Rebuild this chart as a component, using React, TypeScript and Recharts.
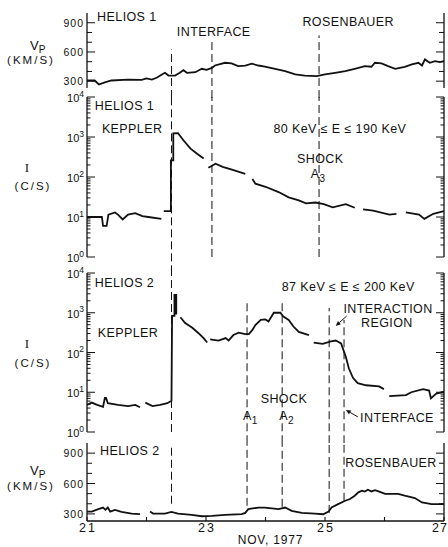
import React from "react";
import { LineChart, Line, XAxis, YAxis, ReferenceLine, ReferenceDot } from "recharts";

const FONT = '"Liberation Sans", Arial, Helvetica, sans-serif';
const SERIF = '"Liberation Serif", "DejaVu Serif", serif';
const INK = "#111";
const DASH = "8 4";

// ---------- axes ----------
const dayTicks = [21, 22, 23, 24, 25, 26, 27];
const dayTickLabels = [21, 23, 25, 27];
const speedTicks = [300, 400, 500, 600, 700, 800, 900];
const speedTickLabels = [300, 600, 900];
const countTicks = [
  1, 2, 3, 4, 5, 6, 7, 8, 9,
  10, 20, 30, 40, 50, 60, 70, 80, 90,
  100, 200, 300, 400, 500, 600, 700, 800, 900,
  1000, 2000, 3000, 4000, 5000, 6000, 7000, 8000, 9000,
  10000,
];
const countTickLabels = [1, 10, 100, 1000, 10000];

// ---------- Helios 1 solar wind speed (km/s) ----------
const h1SpeedDays = [21.0, 21.13, 21.2, 21.3, 21.41, 21.69, 21.92, 22.0, 22.09, 22.17, 22.26, 22.31, 22.37, 22.48, 22.56, 22.62, 22.68, 22.82, 22.93, 23.01, 23.1, 23.15, 23.32, 23.43, 23.54, 23.66, 23.77, 23.88, 23.99, 24.16, 24.33, 24.5, 24.66, 24.86, 25.0, 25.17, 25.34, 25.5, 25.67, 25.78, 25.84, 25.95, 26.06, 26.18, 26.34, 26.46, 26.57, 26.63, 26.68, 26.76, 26.85, 26.93, 27.0];
const h1Speed = [307, 307, 266, 287, 307, 317, 314, 328, 317, 335, 369, 386, 358, 358, 386, 413, 386, 392, 427, 416, 437, 461, 489, 482, 454, 460, 479, 461, 450, 427, 403, 369, 358, 351, 369, 386, 403, 427, 454, 448, 489, 482, 454, 427, 448, 472, 489, 461, 523, 489, 506, 496, 506];

// ---------- Helios 1 intensity 80-190 keV (c/s) ----------
const h1CountDays = [21.0, 21.25, 21.27, 21.33, 21.36, 21.47, 21.52, 21.6, 21.69, 21.81, 21.93, 22.03, 22.25, 22.27, 22.29, 22.41, 22.41, 22.45, 22.45, 22.53, 22.62, 22.74, 22.85, 22.96, 23.0, 23.04, 23.16, 23.28, 23.45, 23.66, 23.7, 23.78, 23.83, 24.0, 24.22, 24.39, 24.56, 24.68, 24.84, 24.98, 25.13, 25.35, 25.5, 25.52, 25.64, 25.81, 26.08, 26.2, 26.22, 26.36, 26.58, 26.67, 26.82, 27.0];
const h1Count = [10, 10, 6, 6, 11.5, 13, 11.5, 8.7, 11.5, 12.5, 10.5, 10, 9, null, 14, 14, 260, 260, 1230, 1250, 830, 510, 380, 290, null, 170, 215, 180, 150, 120, null, 89, 68, 57, 42, 31, 26, 22, 23, 21, 17.5, 21, 17, null, 15.5, 14.5, 11.5, 12, null, 13, 11.5, 9, 12, 14];

// ---------- Helios 2 intensity 87-200 keV (c/s) ----------
const h2CountDays = [21.0, 21.08, 21.17, 21.27, 21.3, 21.32, 21.35, 21.52, 21.69, 21.81, 21.89, 21.92, 21.98, 22.1, 22.23, 22.35, 22.42, 22.43, 22.47, 22.47, 22.5, 22.5, 22.53, 22.57, 22.65, 22.77, 22.87, 22.96, 23.02, 23.04, 23.07, 23.21, 23.33, 23.38, 23.46, 23.55, 23.66, 23.72, 23.78, 23.83, 23.92, 24.0, 24.05, 24.14, 24.25, 24.3, 24.39, 24.47, 24.56, 24.73, 24.77, 24.81, 24.96, 25.1, 25.18, 25.27, 25.35, 25.4, 25.47, 25.55, 25.69, 25.91, 25.99, 26.03, 26.08, 26.36, 26.45, 26.65, 26.75, 26.78, 26.87, 27.0];
const h2Count = [4.8, 5.5, 4.8, 4.3, 7.2, 7.2, 5.3, 4.8, 4.5, 4.8, 4.2, null, 5.5, 4.5, 4.8, 5.3, 6.1, 830, 830, 2800, 2800, 900, null, 770, 550, 420, 310, 230, 178, null, 215, 200, 230, 200, 275, 315, 290, 290, 370, 490, 660, 680, 600, 1000, 1000, 800, 660, 450, 330, 275, null, 178, 165, 190, 200, 170, 78, 40, 23, 17, 15, 14, 12, null, 8, 8.5, 10, 12, 11, 7, 9.3, 10.3];

// ---------- Helios 2 solar wind speed (km/s) ----------
const h2SpeedDays = [21.0, 21.08, 21.19, 21.27, 21.31, 21.35, 21.39, 21.47, 21.58, 21.75, 21.89, 21.97, 22.06, 22.11, 22.31, 22.42, 22.53, 22.76, 22.93, 23.1, 23.32, 23.6, 23.66, 23.71, 23.88, 23.99, 24.22, 24.33, 24.44, 24.61, 24.83, 24.97, 25.06, 25.11, 25.22, 25.34, 25.42, 25.5, 25.56, 25.62, 25.67, 25.72, 25.78, 25.84, 25.9, 26.01, 26.23, 26.34, 26.51, 26.63, 26.79, 27.0];
const h2Speed = [323, 323, 347, 363, 340, 363, 323, 340, 320, 303, 297, null, 323, 303, 303, 320, 303, 290, 277, 280, 290, 297, 310, 347, 363, 363, 347, 363, 330, 310, 303, 297, 323, 363, 397, 430, 447, 480, 513, 530, 520, 538, 522, 535, 523, 497, 497, 480, 457, 413, 397, 397];

// event times (days of Nov 1977)
const helios1Events = [22.42, 23.1, 24.9];
const helios2Events = [22.42, 23.69, 24.28, 25.07, 25.32];

type Pt = { day: number; v: number | null };
const zip = (days: number[], vals: (number | null)[]): Pt[] =>
  days.map((d, i) => ({ day: d, v: vals[i] }));

const h1SpeedData = zip(h1SpeedDays, h1Speed);
const h1CountData = zip(h1CountDays, h1Count);
const h2CountData = zip(h2CountDays, h2Count);
const h2SpeedData = zip(h2SpeedDays, h2Speed);

// ---------- tick renderers ----------
const yTick = (labels: number[], log: boolean, side: "left" | "right") => (p: any) => {
  const { x, y, payload } = p;
  const val = payload.value;
  const isLab = labels.includes(val);
  const len = isLab ? 8 : log ? 3.5 : 5;
  const dir = side === "left" ? 1 : -1;
  return (
    <g>
      <line x1={x} x2={x + dir * len} y1={y} y2={y} stroke={INK} strokeWidth={1} />
      {side === "left" && isLab &&
        (log ? (
          <text x={x - 3} y={y + 5} textAnchor="end" fontSize={11} fontFamily={FONT} fill={INK}>
            10
            <tspan dy={-5.5} fontSize={8.5}>
              {Math.round(Math.log10(val))}
            </tspan>
          </text>
        ) : (
          <text x={x - 3} y={y + 4} textAnchor="end" fontSize={10.5} letterSpacing={1} fontFamily={FONT} fill={INK}>
            {val}
          </text>
        ))}
    </g>
  );
};

const xTick = (withLabels: boolean) => (p: any) => {
  const { x, y, payload } = p;
  const last = payload.value === dayTicks[dayTicks.length - 1];
  return (
    <g>
      <line x1={x} x2={x} y1={y} y2={y - 4} stroke={INK} strokeWidth={1.1} />
      {withLabels && dayTickLabels.includes(payload.value) && (
        <text x={last ? x - 4 : x + 1} y={y + 11} textAnchor="middle" fontSize={12.5} letterSpacing={last ? 1 : 2} fontFamily={FONT} fill={INK}>
          {payload.value}
        </text>
      )}
    </g>
  );
};

const speedTitle = (d1: number, d2: number) => (p: any) => {
  const vb = p.viewBox || { x: 0, y: 0, width: 87, height: 0 };
  const cy = vb.y + vb.height / 2;
  return (
    <g fontFamily={FONT} fill={INK}>
      <text x={vb.x + 30} y={cy + d1} fontSize={13}>
        V<tspan dy={3} fontSize={10}>P</tspan>
      </text>
      <text x={vb.x + 31} y={cy + d2} fontSize={11.5} letterSpacing={2} textAnchor="middle">
        (KM/S)
      </text>
    </g>
  );
};

const countTitle = (d1: number, d2: number) => (p: any) => {
  const vb = p.viewBox || { x: 0, y: 0, width: 87, height: 0 };
  const cy = vb.y + vb.height / 2;
  return (
    <g fill={INK}>
      <text x={vb.x + 27} y={cy + d1} fontSize={13} fontFamily={SERIF} textAnchor="middle">
        I
      </text>
      <text x={vb.x + 33} y={cy + d2} fontSize={11.5} letterSpacing={2} fontFamily={FONT} textAnchor="middle">
        (C/S)
      </text>
    </g>
  );
};

const dateTitle = (p: any) => {
  const vb = p.viewBox || { x: 87, y: 0, width: 357, height: 26 };
  return (
    <text x={vb.x + vb.width / 2 + 5} y={vb.y + 23} textAnchor="middle" fontSize={12} letterSpacing={0.8} fontFamily={FONT} fill={INK}>
      NOV, 1977
    </text>
  );
};

// ---------- annotations ----------
const note = (key: string, x: number, y: number, text: React.ReactNode, anchor: "start" | "middle" | "end" = "start", size = 12.5) => (
  <ReferenceDot
    key={key}
    x={x}
    y={y}
    r={1}
    ifOverflow="visible"
    shape={(p: any) => (
      <text x={p.cx} y={p.cy} textAnchor={anchor} fontSize={size} letterSpacing={0.4} fontFamily={FONT} fill={INK}>
        {text}
      </text>
    )}
  />
);

const sub = (main: string, s: string) => (
  <>
    {main}
    <tspan dy={4} fontSize={10}>
      {s}
    </tspan>
  </>
);

const arrow = (key: string, x: number, y: number, dx: number, dy: number) => (
  <ReferenceDot
    key={key}
    x={x}
    y={y}
    r={1}
    ifOverflow="visible"
    shape={(p: any) => {
      const { cx, cy } = p;
      const L = Math.hypot(dx, dy);
      const ux = dx / L;
      const uy = dy / L;
      const bx = cx + ux * 5;
      const by = cy + uy * 5;
      const pts = `${cx},${cy} ${bx - uy * 2.2},${by + ux * 2.2} ${bx + uy * 2.2},${by - ux * 2.2}`;
      return (
        <g>
          <line x1={cx + dx} y1={cy + dy} x2={bx} y2={by} stroke={INK} strokeWidth={1} />
          <polygon points={pts} fill={INK} />
        </g>
      );
    }}
  />
);

const vline = (key: string, x: number, y1: number, y2: number) => (
  <ReferenceLine
    key={key}
    segment={[
      { x, y: y1 },
      { x, y: y2 },
    ]}
    ifOverflow="visible"
    stroke={INK}
    strokeWidth={1}
    strokeDasharray={DASH}
  />
);

// ---------- axis sets ----------
const xAxes = (labels: boolean) => [
  <XAxis
    key="xb"
    dataKey="day"
    type="number"
    domain={[21, 27]}
    ticks={dayTicks}
    interval={0}
    allowDataOverflow
    height={labels ? 26 : 0}
    tickSize={0}
    tickMargin={0}
    tickLine={false}
    axisLine={{ stroke: INK, strokeWidth: 1.3 }}
    tick={xTick(labels)}
    label={labels ? dateTitle : undefined}
  />,
  <XAxis
    key="xt"
    xAxisId="t"
    orientation="top"
    dataKey="day"
    type="number"
    domain={[21, 27]}
    allowDataOverflow
    height={0}
    tick={false}
    tickLine={false}
    axisLine={{ stroke: INK, strokeWidth: 1.3 }}
  />,
];

const yAxes = (log: boolean, title: any) => {
  const common: any = log
    ? { scale: "log", domain: [1, 10000], ticks: countTicks }
    : { scale: "linear", domain: [230, 1000], ticks: speedTicks };
  const labels = log ? countTickLabels : speedTickLabels;
  return [
    <YAxis
      key="yl"
      type="number"
      {...common}
      allowDataOverflow
      interval={0}
      width={87}
      tickSize={0}
      tickMargin={0}
      tickLine={false}
      axisLine={{ stroke: INK, strokeWidth: 1.3 }}
      tick={yTick(labels, log, "left")}
      label={title}
    />,
    <YAxis
      key="yr"
      yAxisId="r"
      orientation="right"
      type="number"
      {...common}
      allowDataOverflow
      interval={0}
      width={4}
      tickSize={0}
      tickMargin={0}
      tickLine={false}
      axisLine={{ stroke: INK, strokeWidth: 1.3 }}
      tick={yTick(labels, log, "right")}
    />,
  ];
};

const trace = (
  <Line
    dataKey="v"
    type="linear"
    stroke={INK}
    strokeWidth={1.8}
    dot={false}
    activeDot={false}
    connectNulls={false}
    isAnimationActive={false}
  />
);

export default function App() {
  return (
    <div style={{ position: "absolute", left: 0, top: 0, width: 448, height: 547, background: "#fff", overflow: "hidden" }}>
      {/* Panel 1: Helios 1 Vp */}
      <div style={{ position: "absolute", left: 0, top: 0 }}>
        <LineChart width={448} height={98} data={h1SpeedData} margin={{ top: 13, right: 0, bottom: 10, left: 0 }}>
          {xAxes(false)}
          {yAxes(false, speedTitle(-0.5, 13.5))}
          {vline("a", helios1Events[0], 127, 625)}
          {vline("b", helios1Events[1], 127, 720)}
          {vline("c", helios1Events[2], 127, 770)}
          {trace}
          {note("n1", 21.17, 913, "HELIOS 1")}
          {note("n2", 23.13, 759, "INTERFACE", "middle")}
          {note("n3", 25.39, 862, "ROSENBAUER", "middle")}
        </LineChart>
      </div>

      {/* Panel 2: Helios 1 intensity */}
      <div style={{ position: "absolute", left: 0, top: 87 }}>
        <LineChart width={448} height={186} data={h1CountData} margin={{ top: 10, right: 0, bottom: 16, left: 0 }}>
          {xAxes(false)}
          {yAxes(true, countTitle(-5, 13))}
          {vline("a", helios1Events[0], 0.39, 10000)}
          {vline("b", helios1Events[1], 1, 10000)}
          {vline("c", helios1Events[2], 1, 10000)}
          {trace}
          {note("n1", 21.13, 4730, "HELIOS 1")}
          {note("n2", 21.25, 1260, "KEPPLER")}
          {note("n3", 25.25, 1260, "80 KeV ≤ E ≤ 190 KeV", "middle")}
          {note("n4", 24.92, 224, "SHOCK", "middle")}
          {note("n5", 24.76, 94, sub("A", "3"))}
        </LineChart>
      </div>

      {/* Panel 3: Helios 2 intensity */}
      <div style={{ position: "absolute", left: 0, top: 257 }}>
        <LineChart width={448} height={186} data={h2CountData} margin={{ top: 16, right: 0, bottom: 11, left: 0 }}>
          {xAxes(false)}
          {yAxes(true, countTitle(-4.5, 14.5))}
          {vline("a", helios2Events[0], 1, 10000)}
          {vline("b", helios2Events[1], 0.52, 1860)}
          {vline("c", helios2Events[2], 0.52, 1860)}
          {vline("d", helios2Events[3], 0.52, 1320)}
          {vline("e", helios2Events[4], 0.52, 660)}
          {trace}
          {note("n1", 21.13, 4450, "HELIOS 2")}
          {note("n2", 21.18, 245, "KEPPLER")}
          {note("n3", 25.39, 3530, "87 KeV ≤ E ≤ 200 KeV", "middle")}
          {note("n4", 26.06, 985, "INTERACTION", "middle")}
          {note("n5", 26.04, 437, "REGION", "middle")}
          {note("n6", 24.31, 5.4, "SHOCK", "middle")}
          {note("n7", 24.23, 2.0, sub("A", "2"))}
          {note("n8", 23.62, 2.0, sub("A", "1"))}
          {note("n9", 25.59, 1.8, "INTERFACE")}
          {arrow("r1", 25.18, 465, 11, -10)}
          {arrow("r2", 25.35, 3.6, 12, 7)}
        </LineChart>
      </div>

      {/* Panel 4: Helios 2 Vp */}
      <div style={{ position: "absolute", left: 0, top: 432 }}>
        <LineChart width={448} height={115} data={h2SpeedData} margin={{ top: 11, right: 0, bottom: 0, left: 0 }}>
          {xAxes(true)}
          {yAxes(false, speedTitle(-7.5, 8))}
          {vline("a", helios2Events[0], 400, 960)}
          {vline("b", helios2Events[1], 380, 1000)}
          {vline("c", helios2Events[2], 370, 1000)}
          {vline("d", helios2Events[3], 310, 1000)}
          {vline("e", helios2Events[4], 430, 1000)}
          {trace}
          {note("n1", 21.22, 880, "HELIOS 2")}
          {note("n2", 26.11, 760, "ROSENBAUER", "middle")}
        </LineChart>
      </div>
    </div>
  );
}
